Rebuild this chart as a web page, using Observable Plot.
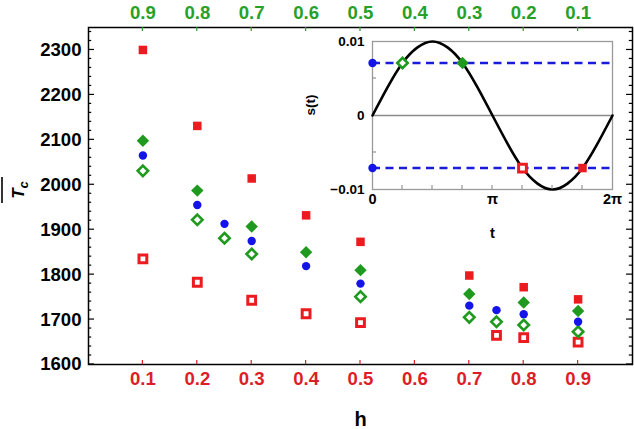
<!DOCTYPE html>
<html><head><meta charset="utf-8">
<script src="https://cdn.jsdelivr.net/npm/d3@7"></script>
<script src="https://cdn.jsdelivr.net/npm/@observablehq/plot@0.6"></script>
<style>
html,body{margin:0;padding:0;background:#fff;}
#wrap{position:relative;width:634px;height:429px;overflow:hidden;}
#wrap svg{position:absolute;}
</style></head><body><div id="wrap"></div>
<script>
// ---- main chart data ----
const h = [0.1, 0.2, 0.25, 0.3, 0.4, 0.5, 0.7, 0.75, 0.8, 0.9];
const redFilled   = [2300, 2131, null, 2014, 1932, 1873, 1798, null, 1772, 1745];
const greenFilled = [2098, 1987, null, 1907, 1850, 1810, 1757, null, 1738, 1719];
const blueCircle  = [2065, 1955, 1913, 1875, 1819, 1780, 1731, 1721, 1712, 1695];
const greenOpen   = [2031, 1922, 1881, 1846, null, 1751, 1705, 1695, 1688, 1673];
const redOpen     = [1835, 1783, null, 1743, 1713, 1693, null, 1665, 1660, 1650];
const hTicks = [0.1, 0.2, 0.3, 0.4, 0.5, 0.6, 0.7, 0.8, 0.9];
const bottomLabels = ["0.1", "0.2", "0.3", "0.4", "0.5", "0.6", "0.7", "0.8", "0.9"];
const topLabels = ["0.9", "0.8", "0.7", "0.6", "0.5", "0.4", "0.3", "0.2", "0.1"];
const yTicks = [1600, 1700, 1800, 1900, 2000, 2100, 2200, 2300];
const yLabels = ["1600", "1700", "1800", "1900", "2000", "2100", "2200", "2300"];

// ---- inset data ----
const tK = [0, 1, 2, 3, 4, 5, 6, 7, 8, 9, 10, 11, 12, 13, 14, 15, 16]; // t in units of pi/8
const sVals = [0, 0.0038, 0.0071, 0.0092, 0.01, 0.0092, 0.0071, 0.0038, 0,
  -0.0038, -0.0071, -0.0092, -0.01, -0.0092, -0.0071, -0.0038, 0];
const levels = [0.0071, -0.0071];
const markerQ = [1, 3, 5, 7];           // t in units of pi/4
const markerS = [0.0071, 0.0071, -0.0071, -0.0071];
const markerKind = ["greenOpen", "greenFilled", "redOpen", "redFilled"];
const insetXTicks = [0, 1, 2];          // units of pi
const insetXLabels = ["0", "π", "2π"];
const insetYTicks = [0.01, 0, -0.01];
const insetYLabels = ["0.01", "0", "−0.01"];

const RED = "#ec1b1f", GREEN = "#1f9a1f", BLUE = "#1414e8";
const RED_T = "#dc1f26", GREEN_T = "#28a028";
const FONT = "Liberation Sans, Arial, Helvetica, sans-serif";
const FS = 18.6;

const rows = arr => h.map((x, i) => ({h: x, v: arr[i]})).filter(d => d.v != null);

const main = Plot.plot({
  width: 634, height: 429,
  marginLeft: 88, marginRight: 2, marginTop: 27, marginBottom: 65,
  x: {domain: [0, 1], axis: null},
  y: {domain: [1600, 2350], axis: null},
  style: {fontFamily: FONT, background: "white"},
  marks: [
    Plot.frame({stroke: "black", strokeWidth: 1.5}),
    Plot.dot(rows(redFilled), {x: "h", y: "v", symbol: "square", r: 4.8, fill: RED}),
    Plot.dot(rows(redOpen), {x: "h", y: "v", symbol: "square", r: 4.4, fill: "white", stroke: RED, strokeWidth: 3}),
    Plot.dot(rows(greenFilled), {x: "h", y: "v", symbol: "diamond2", r: 5.6, fill: GREEN}),
    Plot.dot(rows(greenOpen), {x: "h", y: "v", symbol: "diamond2", r: 4.7, fill: "white", stroke: GREEN, strokeWidth: 2.6}),
    Plot.dot(rows(blueCircle), {x: "h", y: "v", symbol: "circle", r: 4.2, fill: BLUE}),
    Plot.text(yTicks, {y: d => d, text: (d, i) => yLabels[i], frameAnchor: "left", dx: -7, textAnchor: "end",
      fontSize: FS, fontWeight: "bold", fill: "black"}),
    Plot.text(hTicks, {x: d => d, text: (d, i) => bottomLabels[i], frameAnchor: "bottom", dy: 20,
      fontSize: FS, fontWeight: "bold", fill: RED_T}),
    Plot.text(hTicks, {x: d => d, text: (d, i) => topLabels[i], frameAnchor: "top", dy: -22,
      fontSize: FS, fontWeight: "bold", fill: GREEN_T}),
    Plot.text(["h"], {frameAnchor: "bottom", dy: 61, fontSize: 20, fontWeight: "bold", fill: "black"})
  ]
});
document.getElementById("wrap").appendChild(main);
main.style.left = "0px"; main.style.top = "0px";

// ticks on the main frame, placed with the plot's own scales
{
  const sx = main.scale("x"), sy = main.scale("y");
  const X0 = sx.apply(0), X1 = sx.apply(1), Y0 = sy.apply(1600), Y1 = sy.apply(2350);
  const g = d3.select(main).append("g").attr("stroke-width", 1.2);
  const minor = d3.range(1600, 2351, 20);
  for (const v of minor) {
    const yy = sy.apply(v), len = (v % 100 === 0) ? 6 : 3.2;
    g.append("line").attr("x1", X0).attr("x2", X0 + len).attr("y1", yy).attr("y2", yy).attr("stroke", "black");
    g.append("line").attr("x1", X1).attr("x2", X1 - len).attr("y1", yy).attr("y2", yy).attr("stroke", "black");
  }
  for (const v of hTicks) {
    const xx = sx.apply(v);
    g.append("line").attr("x1", xx).attr("x2", xx).attr("y1", Y0).attr("y2", Y0 - 4).attr("stroke", RED_T);
    g.append("line").attr("x1", xx).attr("x2", xx).attr("y1", Y1).attr("y2", Y1 + 4).attr("stroke", GREEN_T);
  }
  // y-axis title: overline T subscript c
  const t = d3.select(main).append("g").attr("transform", "translate(24,190) rotate(-90)");
  const txt = t.append("text").attr("text-anchor", "middle").attr("font-family", FONT)
    .attr("font-style", "italic").attr("font-weight", "bold").attr("fill", "black");
  txt.append("tspan").attr("font-size", 17).text("T");
  txt.append("tspan").attr("font-size", 13).attr("dy", 4).text("c");
  t.append("line").attr("x1", -13).attr("x2", 13).attr("y1", -22).attr("y2", -22)
    .attr("stroke", "black").attr("stroke-width", 1.6);
}

// ---- inset ----
const PI = Math.PI;
const curve = tK.map((k, i) => ({t: k * PI / 8, s: sVals[i]}));
const marks = markerQ.map((q, i) => ({t: q * PI / 4, s: markerS[i], kind: markerKind[i]}));
const byKind = k => marks.filter(d => d.kind === k);

const inset = Plot.plot({
  width: 326, height: 214,
  marginLeft: 72, marginRight: 14, marginTop: 11, marginBottom: 55,
  x: {domain: [0, 2 * PI], axis: null},
  y: {domain: [-0.01, 0.01], axis: null},
  style: {fontFamily: FONT, background: "transparent", overflow: "visible"},
  marks: [
    Plot.frame({stroke: "#9a9a9a", strokeWidth: 1.3, fill: "white"}),
    Plot.ruleY([0], {stroke: "#8a8a8a", strokeWidth: 1.3}),
    Plot.line(curve, {x: "t", y: "s", curve: "natural", stroke: "black", strokeWidth: 2.6}),
    Plot.ruleY(levels, {x1: 0, x2: 2 * PI, stroke: "#1a1adc", strokeWidth: 2.6, strokeDasharray: "8,5.5"}),
    Plot.dot(levels, {x: 0, y: d => d, r: 4.2, fill: BLUE}),
    Plot.dot(byKind("greenOpen"), {x: "t", y: "s", symbol: "diamond2", r: 4.7, fill: "white", stroke: GREEN, strokeWidth: 2.6}),
    Plot.dot(byKind("greenFilled"), {x: "t", y: "s", symbol: "diamond2", r: 5.6, fill: GREEN}),
    Plot.dot(byKind("redOpen"), {x: "t", y: "s", symbol: "square", r: 4.4, fill: "white", stroke: RED, strokeWidth: 3}),
    Plot.dot(byKind("redFilled"), {x: "t", y: "s", symbol: "square", r: 4.8, fill: RED}),
    Plot.text(insetYTicks, {y: d => d, text: (d, i) => insetYLabels[i], frameAnchor: "left", dx: -8, textAnchor: "end",
      fontSize: 13.5, fontWeight: "bold", fill: "black"}),
    Plot.text(insetXTicks, {x: d => d * PI, text: (d, i) => insetXLabels[i], frameAnchor: "bottom", dy: 14,
      fontSize: 14.5, fontWeight: "bold", fill: "black"}),
    Plot.text(["s(t)"], {frameAnchor: "left", dx: -62, rotate: -90, fontSize: 13.5, fontWeight: "bold", fill: "black"}),
    Plot.text(["t"], {frameAnchor: "bottom", dy: 48, fontSize: 14.5, fontWeight: "bold", fill: "black"})
  ]
});
document.getElementById("wrap").appendChild(inset);
inset.style.left = "300px"; inset.style.top = "30px";
{
  const sx = inset.scale("x"), sy = inset.scale("y");
  const X0 = sx.apply(0), Y0 = sy.apply(-0.01);
  const g = d3.select(inset).append("g").attr("stroke", "#8a8a8a").attr("stroke-width", 1.1);
  for (const q of [1, 2, 3, 4, 5, 6, 7]) {
    const xx = sx.apply(q * PI / 4);
    g.append("line").attr("x1", xx).attr("x2", xx).attr("y1", Y0).attr("y2", Y0 - 4);
  }
  for (const v of [0.005, -0.005]) {
    const yy = sy.apply(v);
    g.append("line").attr("x1", X0).attr("x2", X0 + 4).attr("y1", yy).attr("y2", yy);
  }
}
</script></body></html>
